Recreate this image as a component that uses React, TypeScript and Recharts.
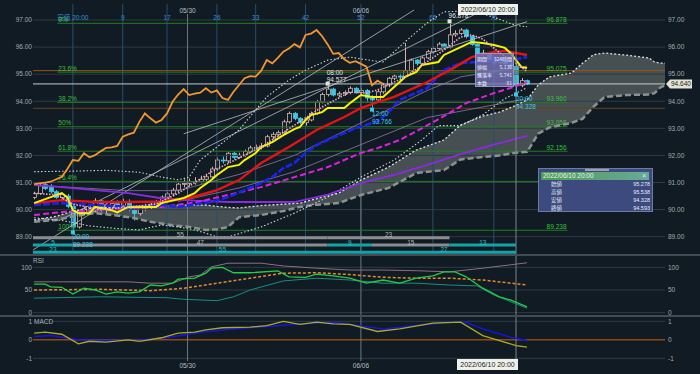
import React from 'react';
import { ComposedChart, Line, Bar, Area, XAxis, YAxis, ReferenceLine, ReferenceDot } from 'recharts';

const BG = '#101b23';
const FONT = '"Liberation Sans", "Noto Sans CJK JP", sans-serif';
const JFONT = '"Noto Sans CJK JP", "Liberation Sans", sans-serif';
const GRID = '#2f3c45';
const FS = 6.5;

const X_DOMAIN: [number, number] = [-7.2, 106.9];
const PRICE_DOMAIN: [number, number] = [88.361, 97.591];
const priceTicks = [89, 90, 91, 92, 93, 94, 95, 96, 97];

// ---- candles (4h bars), bar index -7 .. 82 (bar 0 = low at 20:00)
const firstBar = -7;
const LAG = 26;
const opens = [
  90.45, 90.60, 90.92, 90.85, 90.66, 90.45, 90.50, 90.12, 89.36, 89.90,
  90.02, 89.94, 90.32, 90.02, 90.14, 90.22, 90.16, 90.30, 90.00, 89.86,
  90.06, 90.12, 90.20, 90.28, 90.46, 90.58, 90.72, 90.94, 90.97, 91.00,
  91.03, 91.12, 91.21, 91.50, 91.83, 91.80, 92.08, 91.93, 92.01, 92.15,
  92.28, 92.30, 92.35, 92.69, 92.78, 92.84, 93.24, 93.55, 93.37, 93.21,
  93.31, 93.55, 93.98, 94.25, 94.45, 94.23, 94.28, 94.32, 94.48, 94.32,
  94.40, 94.12, 94.05, 94.35, 94.60, 94.85, 94.93, 94.91, 95.13, 95.52,
  95.40, 95.60, 95.83, 95.95, 96.11, 95.99, 96.45, 96.50, 96.63, 96.40,
  96.10, 95.75, 95.78, 95.55, 95.42, 95.48, 95.38, 95.278, 94.593, 94.76,
];
const highs = [
  90.66, 90.95, 91.00, 90.94, 90.72, 90.62, 90.58, 90.20, 89.98, 90.12,
  90.15, 90.42, 90.36, 90.22, 90.30, 90.34, 90.40, 90.38, 90.10, 90.12,
  90.22, 90.26, 90.36, 90.52, 90.66, 90.80, 91.02, 91.12, 91.15, 91.20,
  91.25, 91.32, 91.58, 91.92, 91.96, 92.12, 92.14, 92.10, 92.22, 92.36,
  92.40, 92.46, 92.76, 92.86, 92.92, 93.32, 93.62, 93.60, 93.42, 93.40,
  93.62, 94.05, 94.32, 94.577, 94.50, 94.36, 94.40, 94.55, 94.52, 94.48,
  94.45, 94.22, 94.42, 94.68, 94.90, 95.00, 95.02, 96.15, 95.58, 95.56,
  95.66, 95.90, 96.02, 96.18, 96.14, 96.878, 96.62, 96.70, 96.68, 96.44,
  96.14, 95.90, 95.82, 95.62, 95.58, 95.52, 95.45, 95.538, 94.86, 94.80,
];
const lows = [
  90.38, 90.55, 90.72, 90.60, 90.40, 90.36, 90.05, 89.238, 89.30, 89.80,
  89.85, 89.90, 89.92, 89.82, 89.98, 90.04, 90.08, 89.94, 89.60, 89.78,
  89.95, 90.00, 90.10, 90.20, 90.38, 90.50, 90.65, 90.82, 90.88, 90.92,
  90.96, 91.05, 91.15, 91.42, 91.70, 91.72, 91.85, 91.88, 91.95, 92.08,
  92.18, 92.22, 92.30, 92.60, 92.70, 92.80, 93.18, 93.30, 93.15, 93.10,
  93.26, 93.50, 93.92, 94.18, 94.18, 94.15, 94.20, 94.26, 94.28, 94.25,
  93.95, 93.766, 94.00, 94.28, 94.52, 94.78, 94.80, 94.86, 95.08, 95.32,
  95.36, 95.55, 95.76, 95.90, 95.92, 95.95, 96.38, 96.44, 96.32, 96.05,
  95.70, 95.62, 95.48, 95.36, 95.38, 95.30, 95.22, 94.328, 94.52, 94.60,
];
const closes = [
  90.60, 90.88, 90.78, 90.66, 90.45, 90.56, 90.12, 89.36, 89.90, 90.02,
  89.94, 90.32, 90.02, 90.14, 90.22, 90.16, 90.30, 90.00, 89.86, 90.06,
  90.12, 90.20, 90.28, 90.46, 90.58, 90.72, 90.94, 90.97, 91.00, 91.03,
  91.12, 91.21, 91.50, 91.83, 91.80, 92.08, 91.93, 92.01, 92.15, 92.28,
  92.30, 92.35, 92.69, 92.78, 92.84, 93.24, 93.55, 93.37, 93.21, 93.31,
  93.55, 93.98, 94.25, 94.45, 94.23, 94.28, 94.32, 94.48, 94.32, 94.40,
  94.12, 94.05, 94.35, 94.60, 94.85, 94.93, 94.91, 95.13, 95.52, 95.40,
  95.60, 95.83, 95.95, 96.11, 95.99, 96.45, 96.50, 96.63, 96.40, 96.10,
  95.75, 95.78, 95.55, 95.42, 95.48, 95.38, 95.28, 94.593, 94.76, 94.64,
];

// ---- indicator lines (bar index, value)
const tenkanBars = [-7, -4, -2, -1, 0, 1, 3, 4, 7, 8, 10, 15, 16, 20, 22, 23, 25, 26, 28, 30, 31, 33, 34, 36, 38, 40, 41, 42, 43, 45, 46, 49, 50, 51, 52, 54, 56, 57, 60, 62, 63, 66, 67, 70, 72, 74, 76, 78, 79, 80, 81, 82];
const tenkanVals = [90.24, 90.46, 90.61, 90.45, 89.98, 89.87, 89.87, 90.1, 89.98, 89.9, 90.1, 90.1, 90.24, 90.43, 90.61, 90.8, 91.09, 91.28, 91.57, 91.65, 91.83, 92.09, 92.31, 92.49, 92.75, 92.97, 93.05, 93.31, 93.49, 93.6, 93.75, 93.75, 93.93, 94.08, 94.23, 94.16, 94.16, 94.34, 94.9, 95.08, 95.34, 95.45, 95.71, 96.0, 96.19, 96.15, 96.08, 95.97, 95.78, 95.52, 95.26, 95.23];
const redBars = [-7, -2, 4, 10, 16, 21, 23, 26, 30, 34, 39, 44, 49, 52, 55, 58, 64, 69, 72, 76, 78, 82];
const redVals = [90.24, 90.35, 90.28, 90.28, 90.3, 90.43, 90.54, 90.72, 91.09, 91.72, 92.31, 92.94, 93.42, 93.75, 93.97, 94.16, 94.71, 95.26, 95.63, 95.82, 95.86, 95.71];
const blueBars = [-7, -2, 10, 16, 19, 25, 28, 31, 34, 36, 38, 40, 42, 44, 46, 49, 51, 55, 57, 59, 64, 67, 70, 75, 79, 82];
const blueVals = [90.17, 90.24, 90.1, 90.17, 90.1, 90.28, 90.46, 90.72, 90.98, 91.2, 91.53, 91.72, 92.09, 92.38, 92.57, 92.83, 93.01, 93.25, 93.6, 94.05, 94.49, 95.15, 95.41, 95.48, 95.52, 95.63];
const magentaBars = [-7, -2, 4, 10, 16, 22, 28, 34, 40, 46, 52, 55, 59, 63, 67, 71, 76, 79, 82];
const magentaVals = [89.8, 89.91, 89.98, 90.06, 90.1, 90.26, 90.54, 90.83, 91.2, 91.57, 92.09, 92.27, 92.57, 93.0, 93.45, 93.93, 94.3, 94.49, 94.71];
const purpleBars = [-7, -2, 4, 10, 16, 22, 28, 40, 46, 52, 58, 64, 70, 76, 82];
const purpleVals = [90.91, 90.83, 90.72, 90.61, 90.42, 90.33, 90.28, 90.28, 90.55, 90.98, 91.28, 91.65, 92.05, 92.4, 92.72];
const pinkBars = [-7, -3, 0, 5, 10, 15, 19, 25, 34, 45, 50, 53, 55, 60, 67, 70, 72, 74, 77, 80, 82];
const pinkVals = [90.6, 90.55, 90.2, 90.0, 90.1, 90.2, 90.6, 91.4, 92.31, 93.79, 94.34, 94.3, 94.42, 94.9, 95.89, 96.37, 96.45, 96.3, 95.8, 95.4, 95.1];
const bbUpperBars = [-7, 0, 6, 12, 16, 19, 21, 23, 26, 30, 33, 35, 39, 42, 46, 50, 54, 56, 60, 64, 67, 72, 76, 80, 82];
const bbUpperVals = [91.4, 91.42, 91.45, 91.38, 91.2, 91.1, 91.2, 91.83, 92.31, 92.94, 93.68, 94.16, 94.78, 95.15, 95.52, 95.63, 95.5, 95.45, 96.2, 96.9, 97.3, 97.35, 97.1, 96.8, 96.75];
const bbLowerBars = [-7, -2, 3, 8, 12, 16, 19, 22, 26, 28, 34, 40, 46, 52, 58, 63, 66, 70, 74, 78, 82];
const bbLowerVals = [89.7, 89.6, 89.4, 89.3, 89.25, 89.43, 89.36, 89.25, 89.0, 88.99, 89.36, 89.87, 90.46, 91.2, 91.83, 92.57, 93.1, 93.1, 93.5, 94.1, 94.5];
const lav1Bars = [-7, 10, 19, 30, 40, 52, 64, 70, 82];
const lav1Vals = [90.9, 90.7, 90.7, 91.3, 92.0, 93.2, 94.4, 94.9, 95.3];
const lav2Bars = [19, 30, 40, 52, 64, 82];
const lav2Vals = [90.3, 90.8, 91.4, 92.4, 93.4, 94.1];

// ---- ichimoku cloud (span A upper, span B lower)
const cloudBars = [-7, -3, 0, 4, 8, 11, 14, 18, 21, 24, 26, 28, 30, 34, 38, 41, 44, 48, 52, 57, 62, 67, 70, 74, 77, 80, 82, 84, 86, 90, 92, 94, 96, 100, 104, 105, 106, 107];
const spanA = [89.62, 89.75, 89.95, 90.06, 90.1, 90.12, 90.13, 90.15, 90.17, 90.17, 90.12, 90.08, 90.06, 90.15, 90.2, 90.24, 90.4, 90.61, 91.09, 91.57, 92.2, 92.57, 93.12, 93.45, 93.6, 93.85, 94.05, 94.6, 94.9, 95.04, 95.4, 95.72, 95.78, 95.7, 95.6, 95.45, 95.41, 95.41];
const spanB = [89.55, 89.62, 89.75, 89.87, 89.78, 89.69, 89.55, 89.42, 89.36, 89.25, 89.27, 89.36, 89.72, 89.8, 89.95, 90.1, 90.18, 90.24, 90.54, 90.8, 91.35, 91.46, 91.85, 91.94, 92.0, 92.1, 92.13, 92.8, 93.03, 93.2, 93.35, 93.8, 94.16, 94.23, 94.25, 94.3, 94.5, 94.6];

// ---- straight trend lines
const trendStartBar = [-7.2, -2.3, 20];
const trendStartPrice = [88.51, 89.62, 92.8];
const trendEndBar = [61.6, 72.5, 82];
const trendEndPrice = [97.37, 97.2, 96.94];

// ---- levels
const fibLevels = [96.878, 95.075, 93.96, 93.058, 92.156, 91.041, 89.238];
const fibNames = ['0%', '23.6%', '38.2%', '50%', '61.8%', '76.4%', '100%'];
const fibTexts = ['96.878', '95.075', '93.960', '93.058', '92.156', '', '89.238'];
const FIB_FROM = -2.8;
const FIB_TO = 89.3;
const brownLevels = [95.13, 93.74];
const currentPrice = 94.64;

// ---- time counts
const countBars = [0, 9, 17, 26, 33, 42, 52, 65, 76];
const countLabels = ['安値 20:00', '9', '17', '26', '33', '42', '52', '65', '76'];
const dateBars = [20.7, 52];
const dateLabels = ['05/30', '06/06'];
const cursorBar = 80;

const segStart = [-7.2, 46, -7.2, 0, 46, 54, 68, -7.2, 0, 54];
const segEnd = [46, 68, 0, 46, 54, 68, 80, 0, 54, 80];
const segRow = [0, 0, 1, 1, 1, 1, 1, 2, 2, 2];
const segText = ['55', '23', '5', '47', '9', '15', '13', '23', '55', '27'];
const segTeal = [false, false, true, false, true, false, true, true, true, true];
const rowLevels = [88.96, 88.69, 88.43];

// ---- notes (high / low markers)
const noteBars = [68, 46, 54, 80, 0];
const notePrices = [96.878, 94.577, 93.766, 94.328, 89.238];
const noteTimes = ['', '08:00', '12:00', '20:00', '20:00'];
const noteHigh = [true, true, false, false, false];

// ---- RSI panel
const rsiBars = [-7, -5, -4, -2, 0, 2, 4, 6, 8, 10, 12, 14, 16, 18, 19, 22, 24, 25, 27, 29, 32, 37, 39, 42, 44, 47, 50, 53, 56, 59, 62, 65, 67, 69, 71, 74, 77, 79, 82];
const rsiVals = [63, 63, 57, 56, 41, 54, 50, 41, 46, 43, 46, 61, 59, 65, 74, 76, 87, 98, 100, 88, 88, 92, 79, 78, 85, 81, 76, 65, 72, 65, 76, 81, 90, 90, 79, 54, 35, 28, 13];
const rsiLongBars = [-7, 10, 14, 18, 21, 23, 25, 28, 34, 38, 44, 50, 56, 62, 68, 74, 82];
const rsiLongVals = [68, 68, 65, 65, 79, 83, 101, 109, 109, 103, 98, 94, 94, 92.5, 90, 98, 110];
const rsiTealBars = [-7, 5, 17, 20, 26, 29, 32, 38, 44, 50, 56, 62, 68, 73, 76, 82];
const rsiTealVals = [32, 35, 33, 29.5, 26.5, 35, 50, 70, 76, 72, 65, 65, 61, 59, 39, 10];
const rsiMaBars = [-7, 5, 14, 20, 26, 32, 38, 44, 50, 56, 62, 68, 74, 82];
const rsiMaVals = [50, 51.5, 48.5, 54, 65, 76, 87, 88, 84, 78, 76, 76, 72, 61];

// ---- MACD panel
const macdBars = [-7, -5, -2, 1, 3, 6, 10, 12, 16, 19, 22, 24, 27, 32, 35, 38, 41, 44, 47, 50, 55, 59, 65, 70, 74, 77, 80, 82];
const macdVals = [0.36, 0.41, 0.3, -0.22, -0.08, -0.13, 0, -0.08, 0.11, 0.36, 0.41, 0.54, 0.65, 0.68, 0.77, 0.99, 0.83, 0.95, 0.86, 0.83, 0.45, 0.59, 0.9, 0.95, 0.23, -0.04, -0.31, -0.4];
const signalBars = [-7, -4, 1, 4, 12, 17, 23, 29, 35, 41, 47, 50, 56, 62, 68, 71, 74, 79, 82];
const signalVals = [0.18, 0.23, 0, -0.02, -0.02, 0.11, 0.41, 0.59, 0.72, 0.86, 0.95, 0.83, 0.59, 0.77, 0.95, 0.95, 0.59, 0.14, -0.04];

// ---- tooltip values
const tipLabels = ['始値', '高値', '安値', '終値'];
const tipValues = ['95.278', '95.538', '94.328', '94.593'];
const measLabels = ['期間', '値幅', '騰落率', '本数'];
const measValues = ['324時間', '5.136', '5.741', '81'];

// ---------- tables
type Row = { i: number; [k: string]: any };
function makeRows(from: number, to: number): Row[] {
  const r: Row[] = [];
  for (let i = from; i <= to; i++) r.push({ i });
  return r;
}
function put(rows: Row[], key: string, bars: number[], vals: number[]) {
  bars.forEach((b, k) => {
    const r = rows[b - rows[0].i];
    if (r) r[key] = vals[k];
  });
}
const mainRows = makeRows(-7, 107);
opens.forEach((o, k) => {
  const r = mainRows[firstBar + k + 7];
  r.o = o; r.h = highs[k]; r.l = lows[k]; r.c = closes[k];
  r.hl = [lows[k], highs[k]];
});
closes.forEach((c, k) => {
  const b = firstBar + k - LAG;
  if (b >= -7) mainRows[b + 7].chikou = c;
});
put(mainRows, 'tenkan', tenkanBars, tenkanVals);
put(mainRows, 'red', redBars, redVals);
put(mainRows, 'blue', blueBars, blueVals);
put(mainRows, 'magenta', magentaBars, magentaVals);
put(mainRows, 'purple', purpleBars, purpleVals);
put(mainRows, 'pink', pinkBars, pinkVals);
put(mainRows, 'bbU', bbUpperBars, bbUpperVals);
put(mainRows, 'bbL', bbLowerBars, bbLowerVals);
put(mainRows, 'lav1', lav1Bars, lav1Vals);
put(mainRows, 'lav2', lav2Bars, lav2Vals);
cloudBars.forEach((b, k) => {
  const r = mainRows[b + 7];
  r.spanA = spanA[k]; r.spanB = spanB[k]; r.cloud = [spanB[k], spanA[k]];
});

const rsiRows = makeRows(-7, 107);
put(rsiRows, 'rsi', rsiBars, rsiVals);
put(rsiRows, 'rsiLong', rsiLongBars, rsiLongVals);
put(rsiRows, 'rsiTeal', rsiTealBars, rsiTealVals);
put(rsiRows, 'rsiMa', rsiMaBars, rsiMaVals);

const macdRows = makeRows(-7, 107);
put(macdRows, 'macd', macdBars, macdVals);
put(macdRows, 'signal', signalBars, signalVals);

// ---------- shapes
const BULL = '#d2b2ae';
const BEAR = '#3ec6e4';
const Candle = (props: any) => {
  const { x, y, width, height, payload } = props;
  if (!payload || payload.o == null || height == null) return null;
  const { o, h, l, c } = payload;
  const span = h - l || 1e-6;
  const py = (v: number) => y + ((h - v) / span) * height;
  const cx = Math.round(x + width / 2) + 0.5;
  const up = c >= o;
  const top = py(Math.max(o, c));
  const bot = py(Math.min(o, c));
  const col = up ? BULL : BEAR;
  return (
    <g>
      <line x1={cx} x2={cx} y1={y} y2={y + height} stroke={col} strokeWidth={1} />
      <rect x={cx - 2} y={top} width={4} height={Math.max(1, bot - top)} fill={up ? BG : BEAR} stroke={col} strokeWidth={0.8} />
    </g>
  );
};

const txt = (extra: any = {}) => ({ fontFamily: FONT, fontSize: FS, ...extra });

const axisTick = { fill: '#a3abb1', fontSize: FS, fontFamily: FONT };

function lineEl(key: string, stroke: string, width: number, dash?: string, axis = 'p') {
  return (
    <Line
      key={key}
      yAxisId={axis}
      type="linear"
      dataKey={key}
      stroke={stroke}
      strokeWidth={width}
      strokeDasharray={dash}
      dot={false}
      activeDot={false}
      connectNulls
      isAnimationActive={false}
    />
  );
}

function sideAxes(id: string, domain: [number, number], ticks: number[], fmt: (v: number) => string) {
  return [
    <YAxis key={id + 'l'} yAxisId={id} domain={domain} allowDataOverflow ticks={ticks} width={33} tickSize={0} tickMargin={1}
      axisLine={false} tickLine={false} tick={axisTick} tickFormatter={fmt} interval={0} />,
    <YAxis key={id + 'r'} yAxisId={id + 'r'} orientation="right" domain={domain} allowDataOverflow ticks={ticks} width={35} tickSize={0} tickMargin={3}
      axisLine={false} tickLine={false} tick={{ ...axisTick, textAnchor: 'start' }} tickFormatter={fmt} interval={0} />,
  ];
}

function MainChart() {
  return (
    <ComposedChart width={700} height={256} data={mainRows} margin={{ top: 4, right: 0, bottom: 2, left: 0 }}>
      <XAxis dataKey="i" type="number" domain={X_DOMAIN} allowDataOverflow hide />
      {sideAxes('p', PRICE_DOMAIN, priceTicks, (v) => v.toFixed(2))}
      {priceTicks.map((t) => (
        <ReferenceLine key={'g' + t} yAxisId="p" y={t} stroke={GRID} strokeWidth={1} />
      ))}
      {countBars.map((b, k) => (
        <ReferenceLine key={'cb' + k} yAxisId="p" x={b} stroke="#2a4d6c" strokeWidth={1}
          label={(p: any) => (
            <text x={p.viewBox.x} y={p.viewBox.y + 15.5} textAnchor="middle" style={txt()} fill="#3a8cd4">{countLabels[k]}</text>
          )} />
      ))}
      {dateBars.map((b, k) => (
        <ReferenceLine key={'db' + k} yAxisId="p" segment={[{ x: b, y: 97.22 }, { x: b, y: PRICE_DOMAIN[0] }]} stroke="#6d7880" strokeWidth={1}
          label={(p: any) => (
            <text x={p.viewBox.x} y={p.viewBox.y - 1.5} textAnchor="middle" style={txt()} fill="#b8bec2">{dateLabels[k]}</text>
          )} />
      ))}
      <Area yAxisId="p" type="linear" dataKey="cloud" stroke="none" fill="#4c5557" fillOpacity={0.9} connectNulls isAnimationActive={false} activeDot={false} />
      {brownLevels.map((lv, k) => (
        <ReferenceLine key={'bl' + k} yAxisId="p" y={lv} stroke={k === 0 ? '#9a5418' : '#6a4218'} strokeWidth={1} />
      ))}
      {fibLevels.map((lv, k) => (
        <ReferenceLine key={'f' + k} yAxisId="p" segment={[{ x: FIB_FROM, y: lv }, { x: FIB_TO, y: lv }]} stroke="#237e23" strokeWidth={1}
          label={(p: any) => (
            <g>
              <text x={p.viewBox.x + 1} y={p.viewBox.y - 1.5} style={txt()} fill="#3fbf3f">{fibNames[k]}</text>
              {fibTexts[k] ? (
                <text x={p.viewBox.x + p.viewBox.width - 1} y={p.viewBox.y - 1.5} textAnchor="end" style={txt()} fill="#3fbf3f">{fibTexts[k]}</text>
              ) : null}
            </g>
          )} />
      ))}
      <ReferenceLine yAxisId="p" y={currentPrice} stroke="#c9cccc" strokeWidth={1}
        label={(p: any) => {
          const x0 = p.viewBox.x + p.viewBox.width + 1;
          const cy = p.viewBox.y;
          return (
            <g>
              <path d={`M${x0},${cy} L${x0 + 4},${cy - 4.5} L${x0 + 26},${cy - 4.5} L${x0 + 26},${cy + 4.5} L${x0 + 4},${cy + 4.5} Z`} fill="#e2e4d8" />
              <text x={x0 + 5} y={cy + 2.4} style={txt()} fill="#222">{currentPrice.toFixed(3)}</text>
            </g>
          );
        }} />
      {trendStartBar.map((b, k) => (
        <ReferenceLine key={'t' + k} yAxisId="p" ifOverflow="hidden"
          segment={[{ x: b, y: trendStartPrice[k] }, { x: trendEndBar[k], y: trendEndPrice[k] }]} stroke="#b9bdc0" strokeWidth={0.8} />
      ))}
      {lineEl('spanB', '#8c9192', 2.5, '6 3')}
      {lineEl('spanA', '#e0e0e0', 1.3, '2 2')}
      {lineEl('bbU', '#c9d6d6', 1.1, '1.5 2')}
      {lineEl('bbL', '#c9d6d6', 1.1, '1.5 2')}
      {lineEl('lav1', '#8d7aa8', 0.8)}
      {lineEl('lav2', '#8d7aa8', 0.8)}
      {lineEl('purple', '#8a2be2', 1.8)}
      {lineEl('magenta', '#e020e0', 2, '6 3')}
      {lineEl('blue', '#1a24f2', 2.6, '7 2')}
      {lineEl('red', '#e41414', 2.4)}
      {lineEl('chikou', '#f2962e', 1.8)}
      <Bar yAxisId="p" dataKey="hl" barSize={4} shape={Candle} isAnimationActive={false} />
      {lineEl('tenkan', '#f6f400', 2)}
      {lineEl('pink', '#f2a6c8', 1.6, '1.5 1.5')}
      <ReferenceLine yAxisId="p" x={cursorBar} stroke="#7d858b" strokeWidth={1} />
      {segStart.map((s, k) => (
        <ReferenceLine key={'s' + k} yAxisId="p" segment={[{ x: s, y: rowLevels[segRow[k]] }, { x: segEnd[k], y: rowLevels[segRow[k]] }]}
          stroke={segTeal[k] ? '#15a3aa' : '#8a8d8f'} strokeWidth={3}
          label={(p: any) => (
            <text x={p.viewBox.x + p.viewBox.width / 2} y={p.viewBox.y - 0.5} textAnchor="middle" style={txt()} fill={segTeal[k] ? '#2cc4c8' : '#b4b8ba'}>{segText[k]}</text>
          )} />
      ))}
      {noteBars.map((b, k) => (
        <ReferenceDot key={'n' + k} yAxisId="p" x={b} y={notePrices[k]} r={2}
          shape={(p: any) => {
            const { cx, cy } = p;
            const hi = noteHigh[k];
            const col = hi ? '#e4e4e4' : '#3cc8e8';
            const v = notePrices[k].toFixed(3);
            return (
              <g>
                <rect x={cx - 2} y={hi ? cy - 4 : cy} width={4} height={4} fill={col} />
                {noteTimes[k] === '' ? (
                  <text x={cx - 1} y={cy - 5} style={txt()} fill={col}>{v}</text>
                ) : hi ? (
                  <g>
                    <text x={cx - 1} y={cy - 11} style={txt()} fill={col}>{noteTimes[k]}</text>
                    <text x={cx - 1} y={cy - 4} style={txt()} fill={col}>{v}</text>
                  </g>
                ) : (
                  <g>
                    <text x={cx} y={cy + 8.5} style={txt()} fill={col}>{noteTimes[k]}</text>
                    <text x={cx} y={cy + 16.5} style={txt()} fill={col}>{v}</text>
                  </g>
                )}
              </g>
            );
          }} />
      ))}
    </ComposedChart>
  );
}

const RSI_DOMAIN: [number, number] = [-5.07, 124.9];
function RsiChart() {
  return (
    <ComposedChart width={700} height={59} data={rsiRows} margin={{ top: 0, right: 0, bottom: 0, left: 0 }}>
      <XAxis dataKey="i" type="number" domain={X_DOMAIN} allowDataOverflow hide />
      {sideAxes('r', RSI_DOMAIN, [0, 50, 100], (v) => String(v))}
      {[0, 50, 100].map((t) => <ReferenceLine key={t} yAxisId="r" y={t} stroke={GRID} />)}
      {dateBars.map((b, k) => <ReferenceLine key={'d' + k} yAxisId="r" x={b} stroke="#6d7880" />)}
      <ReferenceLine yAxisId="r" x={cursorBar} stroke="#7d858b" />
      {lineEl('rsiLong', '#8c6e80', 1, undefined, 'r')}
      {lineEl('rsiTeal', '#1d8c84', 1, undefined, 'r')}
      {lineEl('rsiMa', '#e48a30', 1.5, '3 2', 'r')}
      {lineEl('rsi', '#22cc44', 1.3, undefined, 'r')}
    </ComposedChart>
  );
}

const MACD_DOMAIN: [number, number] = [-1.146, 1.232];
function MacdChart() {
  return (
    <ComposedChart width={700} height={57} data={macdRows} margin={{ top: 0, right: 0, bottom: 13, left: 0 }}>
      <XAxis dataKey="i" type="number" domain={X_DOMAIN} allowDataOverflow hide />
      {sideAxes('m', MACD_DOMAIN, [-1, 0, 1], (v) => String(v))}
      {[-1, 1].map((t) => <ReferenceLine key={t} yAxisId="m" y={t} stroke={GRID} />)}
      <ReferenceLine yAxisId="m" y={0} stroke="#8a4a14" strokeWidth={1.5} />
      {dateBars.map((b, k) => (
        <ReferenceLine key={'d' + k} yAxisId="m" x={b} stroke="#6d7880"
          label={(p: any) => (
            <text x={p.viewBox.x} y={p.viewBox.y + p.viewBox.height + 7} textAnchor="middle" style={txt()} fill="#b8bec2">{dateLabels[k]}</text>
          )} />
      ))}
      <ReferenceLine yAxisId="m" x={cursorBar} stroke="#7d858b" />
      {lineEl('signal', '#1414e6', 1.5, undefined, 'm')}
      {lineEl('macd', '#b0aa1e', 1.3, undefined, 'm')}
    </ComposedChart>
  );
}

const abs = (l: number, t: number, extra: any = {}) => ({ position: 'absolute' as const, left: l, top: t, ...extra });

export default function App() {
  return (
    <div style={{ position: 'fixed', left: 0, top: 0, width: 700, height: 374, background: BG, overflow: 'hidden', fontFamily: FONT }}>
      <div style={abs(0, 0)}><MainChart /></div>
      <div style={abs(0, 256)}><RsiChart /></div>
      <div style={abs(0, 317)}><MacdChart /></div>
      <div style={abs(0, 254, { width: 700, height: 2, background: '#434c53' })} />
      <div style={abs(0, 315, { width: 700, height: 2, background: '#434c53' })} />
      <div style={abs(33, 257, { fontSize: FS, color: '#a9b0b5', lineHeight: '8px' })}>RSI</div>
      <div style={abs(34, 318, { fontSize: FS, color: '#a9b0b5', lineHeight: '8px' })}>MACD</div>

      {/* measurement box */}
      <div style={abs(475, 53, { width: 39, height: 34, background: 'rgba(118,116,186,0.82)', border: '1px solid rgba(190,190,230,0.5)', boxSizing: 'border-box', padding: '1px 1px', fontFamily: JFONT, fontSize: 5, color: '#f2f2ff' })}>
        {measLabels.map((l, k) => (
          <div key={k} style={{ display: 'flex', justifyContent: 'space-between', height: 8, lineHeight: '8px', whiteSpace: 'nowrap', overflow: 'hidden' }}>
            <span>{l}</span><span>{measValues[k]}</span>
          </div>
        ))}
      </div>

      {/* tooltip */}
      <div style={abs(538, 168, { width: 115, height: 44, background: '#3c4a7e', border: '1px solid #6e7aa8', boxSizing: 'border-box' })}>
        <div style={abs(46, 0, { width: 24, height: 2, background: '#9aa0b0' })} />
        <div style={abs(2, 3, { width: 108, height: 8, background: 'linear-gradient(90deg,#4c9c56,#6aa89a)', fontSize: FS, lineHeight: '8px', color: '#eaf6ea', paddingLeft: 2, boxSizing: 'border-box' })}>
          <span>2022/06/10 20:00</span><span style={{ position: 'absolute', right: 3, top: 0 }}>×</span>
        </div>
        {tipLabels.map((l, k) => (
          <div key={k} style={abs(12, 12 + k * 7.8, { width: 99, height: 7.8, lineHeight: '7.8px', fontSize: 5.5, color: '#e8ecf6', display: 'flex', justifyContent: 'space-between', alignItems: 'center', overflow: 'hidden' })}>
            <span style={{ fontFamily: JFONT, lineHeight: '7px' }}>{l}</span><span style={{ lineHeight: '7px' }}>{tipValues[k]}</span>
          </div>
        ))}
      </div>

      {/* cursor date boxes */}
      <div style={abs(458, 4, { width: 60, height: 11, background: '#eef1ea', color: '#222', fontSize: 7, lineHeight: '11px', textAlign: 'center' })}>2022/06/10 20:00</div>
      <div style={abs(457, 359, { width: 61, height: 11, background: '#eef1ea', color: '#222', fontSize: 7, lineHeight: '11px', textAlign: 'center' })}>2022/06/10 20:00</div>
    </div>
  );
}
